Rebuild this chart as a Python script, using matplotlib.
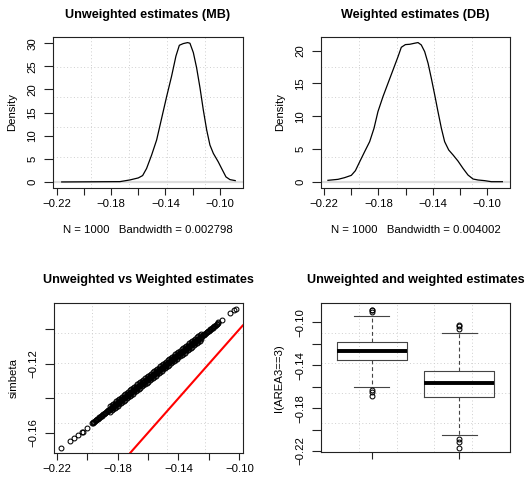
import matplotlib
matplotlib.use('Agg')
import matplotlib.pyplot as plt

plt.rcParams['font.family'] = ['Liberation Sans', 'DejaVu Sans']

# ---------------- data ----------------
# density of unweighted estimates (MB)
dens_mb_x = [-0.2163, -0.1735, -0.1661, -0.1600, -0.1568, -0.1539, -0.1502, -0.1465,
             -0.1428, -0.1391, -0.1355, -0.1323, -0.1298, -0.1269, -0.1237, -0.1220,
             -0.1195, -0.1171, -0.1146, -0.1122, -0.1097, -0.1073, -0.1048, -0.1012,
             -0.0987, -0.0955, -0.0926, -0.0887]
dens_mb_y = [0.0, 0.07, 0.44, 0.87, 1.38, 2.91, 5.81, 9.08,
             13.8, 18.52, 22.88, 27.23, 29.56, 29.93, 30.14, 30.0,
             27.97, 24.7, 20.34, 15.62, 11.26, 7.99, 6.18, 4.36,
             2.91, 1.09, 0.51, 0.29]

# density of weighted estimates (DB)
dens_db_x = [-0.2171, -0.2097, -0.2048, -0.1999, -0.1969, -0.1937, -0.1901, -0.1864,
             -0.1832, -0.1803, -0.1766, -0.1729, -0.1692, -0.1655, -0.1631, -0.1601,
             -0.1569, -0.1533, -0.1508, -0.1484, -0.1459, -0.1434, -0.1410, -0.1385,
             -0.1361, -0.1336, -0.1312, -0.1282, -0.1250, -0.1214, -0.1177, -0.1140,
             -0.1103, -0.1066, -0.1017, -0.0968, -0.0887]
dens_db_y = [0.21, 0.36, 0.62, 0.97, 1.68, 3.06, 4.58, 6.11,
             8.15, 10.69, 12.98, 15.02, 17.05, 19.09, 20.51, 20.92,
             20.97, 21.13, 21.23, 20.87, 19.85, 18.07, 15.78, 13.24,
             10.69, 8.15, 6.11, 4.84, 4.08, 3.16, 2.04, 1.02,
             0.41, 0.26, 0.16, 0.0, 0.0]

mb_label = "N = 1000   Bandwidth = 0.002798"
db_label = "N = 1000   Bandwidth = 0.004002"

# scatter: weighted estimates (x) vs simbeta (y)
# sparse tails
weighted_tail = [-0.2172, -0.2113, -0.2087, -0.2058, -0.2036, -0.2025, -0.2003,
                 -0.1138, -0.1116, -0.1061, -0.1033, -0.1024]
simbeta_tail = [-0.1691, -0.1648, -0.1629, -0.1613, -0.1598, -0.1594, -0.1571,
                -0.0960, -0.0946, -0.0907, -0.0888, -0.0882]
# dense central band (centre of band)
weighted_core = [
    -0.1970, -0.1965, -0.1960, -0.1955, -0.1950, -0.1945, -0.1940, -0.1935, -0.1930, -0.1925,
    -0.1920, -0.1915, -0.1910, -0.1905, -0.1900, -0.1895, -0.1890, -0.1885, -0.1880, -0.1875,
    -0.1870, -0.1865, -0.1860, -0.1855, -0.1850, -0.1845, -0.1840, -0.1835, -0.1830, -0.1825,
    -0.1820, -0.1815, -0.1810, -0.1805, -0.1800, -0.1795, -0.1790, -0.1785, -0.1780, -0.1775,
    -0.1770, -0.1765, -0.1760, -0.1755, -0.1750, -0.1745, -0.1740, -0.1735, -0.1730, -0.1725,
    -0.1720, -0.1715, -0.1710, -0.1705, -0.1700, -0.1695, -0.1690, -0.1685, -0.1680, -0.1675,
    -0.1670, -0.1665, -0.1660, -0.1655, -0.1650, -0.1645, -0.1640, -0.1635, -0.1630, -0.1625,
    -0.1620, -0.1615, -0.1610, -0.1605, -0.1600, -0.1595, -0.1590, -0.1585, -0.1580, -0.1575,
    -0.1570, -0.1565, -0.1560, -0.1555, -0.1550, -0.1545, -0.1540, -0.1535, -0.1530, -0.1525,
    -0.1520, -0.1515, -0.1510, -0.1505, -0.1500, -0.1495, -0.1490, -0.1485, -0.1480, -0.1475,
    -0.1470, -0.1465, -0.1460, -0.1455, -0.1450, -0.1445, -0.1440, -0.1435, -0.1430, -0.1425,
    -0.1420, -0.1415, -0.1410, -0.1405, -0.1400, -0.1395, -0.1390, -0.1385, -0.1380, -0.1375,
    -0.1370, -0.1365, -0.1360, -0.1355, -0.1350, -0.1345, -0.1340, -0.1335, -0.1330, -0.1325,
    -0.1320, -0.1315, -0.1310, -0.1305, -0.1300, -0.1295, -0.1290, -0.1285, -0.1280, -0.1275,
    -0.1270, -0.1265, -0.1260, -0.1255, -0.1250, -0.1245, -0.1240, -0.1235, -0.1230, -0.1225,
    -0.1220, -0.1215, -0.1210, -0.1205, -0.1200, -0.1195, -0.1190, -0.1185, -0.1180, -0.1175,
    -0.1170, -0.1165, -0.1160, -0.1155, -0.1150, -0.1145, -0.1140]
simbeta_core = [
    -0.15460, -0.15425, -0.15390, -0.15355, -0.15320, -0.15285, -0.15250, -0.15215, -0.15180, -0.15145,
    -0.15110, -0.15075, -0.15040, -0.15005, -0.14970, -0.14935, -0.14900, -0.14865, -0.14830, -0.14795,
    -0.14760, -0.14725, -0.14690, -0.14655, -0.14620, -0.14585, -0.14550, -0.14515, -0.14480, -0.14445,
    -0.14410, -0.14375, -0.14340, -0.14305, -0.14270, -0.14235, -0.14200, -0.14165, -0.14130, -0.14095,
    -0.14060, -0.14025, -0.13990, -0.13955, -0.13920, -0.13885, -0.13850, -0.13815, -0.13780, -0.13745,
    -0.13710, -0.13675, -0.13640, -0.13605, -0.13570, -0.13535, -0.13500, -0.13465, -0.13430, -0.13395,
    -0.13360, -0.13325, -0.13290, -0.13255, -0.13220, -0.13185, -0.13150, -0.13115, -0.13080, -0.13045,
    -0.13010, -0.12975, -0.12940, -0.12905, -0.12870, -0.12835, -0.12800, -0.12765, -0.12730, -0.12695,
    -0.12660, -0.12625, -0.12590, -0.12555, -0.12520, -0.12485, -0.12450, -0.12415, -0.12380, -0.12345,
    -0.12310, -0.12275, -0.12240, -0.12205, -0.12170, -0.12135, -0.12100, -0.12065, -0.12030, -0.11995,
    -0.11960, -0.11925, -0.11890, -0.11855, -0.11820, -0.11785, -0.11750, -0.11715, -0.11680, -0.11645,
    -0.11610, -0.11575, -0.11540, -0.11505, -0.11470, -0.11435, -0.11400, -0.11365, -0.11330, -0.11295,
    -0.11260, -0.11225, -0.11190, -0.11155, -0.11120, -0.11085, -0.11050, -0.11015, -0.10980, -0.10945,
    -0.10910, -0.10875, -0.10840, -0.10805, -0.10770, -0.10735, -0.10700, -0.10665, -0.10630, -0.10595,
    -0.10560, -0.10525, -0.10490, -0.10455, -0.10420, -0.10385, -0.10350, -0.10315, -0.10280, -0.10245,
    -0.10210, -0.10175, -0.10140, -0.10105, -0.10070, -0.10035, -0.10000, -0.09965, -0.09930, -0.09895,
    -0.09860, -0.09825, -0.09790, -0.09755, -0.09720, -0.09685, -0.09650]
# dense band: points above and below the centre (same weighted values)
weighted_side = [
    -0.185, -0.184, -0.183, -0.182, -0.181, -0.180, -0.179, -0.178, -0.177, -0.176,
    -0.175, -0.174, -0.173, -0.172, -0.171, -0.170, -0.169, -0.168, -0.167, -0.166,
    -0.165, -0.164, -0.163, -0.162, -0.161, -0.160, -0.159, -0.158, -0.157, -0.156,
    -0.155, -0.154, -0.153, -0.152, -0.151, -0.150, -0.149, -0.148, -0.147, -0.146,
    -0.145, -0.144, -0.143, -0.142, -0.141, -0.140, -0.139, -0.138, -0.137, -0.136,
    -0.135, -0.134, -0.133, -0.132, -0.131, -0.130, -0.129, -0.128, -0.127, -0.126,
    -0.125]
simbeta_upper = [
    -0.1446, -0.1439, -0.1432, -0.1425, -0.1418, -0.1411, -0.1404, -0.1397, -0.1390, -0.1383,
    -0.1376, -0.1369, -0.1362, -0.1355, -0.1348, -0.1341, -0.1334, -0.1327, -0.1320, -0.1313,
    -0.1306, -0.1299, -0.1292, -0.1285, -0.1278, -0.1271, -0.1264, -0.1257, -0.1250, -0.1243,
    -0.1236, -0.1229, -0.1222, -0.1215, -0.1208, -0.1201, -0.1194, -0.1187, -0.1180, -0.1173,
    -0.1166, -0.1159, -0.1152, -0.1145, -0.1138, -0.1131, -0.1124, -0.1117, -0.1110, -0.1103,
    -0.1096, -0.1089, -0.1082, -0.1075, -0.1068, -0.1061, -0.1054, -0.1047, -0.1040, -0.1033,
    -0.1026]
simbeta_lower = [
    -0.1478, -0.1471, -0.1464, -0.1457, -0.1450, -0.1443, -0.1436, -0.1429, -0.1422, -0.1415,
    -0.1408, -0.1401, -0.1394, -0.1387, -0.1380, -0.1373, -0.1366, -0.1359, -0.1352, -0.1345,
    -0.1338, -0.1331, -0.1324, -0.1317, -0.1310, -0.1303, -0.1296, -0.1289, -0.1282, -0.1275,
    -0.1268, -0.1261, -0.1254, -0.1247, -0.1240, -0.1233, -0.1226, -0.1219, -0.1212, -0.1205,
    -0.1198, -0.1191, -0.1184, -0.1177, -0.1170, -0.1163, -0.1156, -0.1149, -0.1142, -0.1135,
    -0.1128, -0.1121, -0.1114, -0.1107, -0.1100, -0.1093, -0.1086, -0.1079, -0.1072, -0.1065,
    -0.1058]
ref_intercept = 0.0
ref_slope = 1.0

# boxplot statistics: [unweighted, weighted]
box_med = [-0.1268, -0.1569]
box_q1 = [-0.1354, -0.1694]
box_q3 = [-0.1181, -0.1454]
box_whislo = [-0.1600, -0.2051]
box_whishi = [-0.0941, -0.1103]
box_fliers = [[-0.1629, -0.1648, -0.1691, -0.0882, -0.0888, -0.0907],
              [-0.2087, -0.2113, -0.2172, -0.1024, -0.1033, -0.1061]]

titles = ["Unweighted estimates (MB)", "Weighted estimates (DB)",
          "Unweighted vs Weighted estimates", "Unweighted and weighted estimates"]

# ---------------- drawing ----------------
W, H = 527, 478
fig = plt.figure(figsize=(W / 100, H / 100), dpi=100)

def rect(x0, y0, x1, y1):
    return [x0 / W, 1 - y1 / H, (x1 - x0) / W, (y1 - y0) / H]

FG = '#222222'
TS = 8.2
TTS = 9.1

def fmt(v):
    return f"{v:.2f}".replace('-', '\u2212')

def style(ax, xlim, ylim, xticks, xshow, yticks, yshow, yfmt=fmt, xfmt=fmt):
    ax.set_xlim(xlim)
    ax.set_ylim(ylim)
    for s in ax.spines.values():
        s.set_color(FG)
        s.set_linewidth(0.8)
    ax.set_xticks(xticks)
    ax.set_xticklabels([xfmt(v) if sh else '' for v, sh in zip(xticks, xshow)])
    ax.set_yticks(yticks)
    ax.set_yticklabels([yfmt(v) if sh else '' for v, sh in zip(yticks, yshow)],
                       rotation=90, va='center')
    ax.tick_params(axis='x', direction='out', length=5, width=0.8, color=FG,
                   labelsize=TS, pad=3.3)
    ax.tick_params(axis='y', direction='out', length=6.5, width=0.8, color=FG,
                   labelsize=TS, pad=5.0)
    # 5x5 dotted grid
    for k in range(1, 5):
        ax.axvline(xlim[0] + k * (xlim[1] - xlim[0]) / 5, color='#cfcfcf',
                   ls=(0, (1, 2.5)), lw=0.7, zorder=0)
        ax.axhline(ylim[0] + k * (ylim[1] - ylim[0]) / 5, color='#cfcfcf',
                   ls=(0, (1, 2.5)), lw=0.7, zorder=0)

xt = [-0.22, -0.20, -0.18, -0.16, -0.14, -0.12, -0.10]
xs = [True, False, True, False, True, False, True]

def ylab(ax, text, xpix, axleft, axwidth):
    ax.set_ylabel(text, fontsize=TS, va='center')
    ax.yaxis.set_label_coords((xpix - axleft) / axwidth, 0.5)

def ttl(ax, text, y):
    ax.set_title(text, fontsize=TTS, fontweight='bold', y=y, pad=0)

# Panel 1
ax1 = fig.add_axes(rect(53.3, 37, 242.7, 187.5))
ax1.axhline(0, color='#dcdcdc', lw=1.6, zorder=1)
ax1.plot(dens_mb_x, dens_mb_y, color='black', lw=0.9, zorder=3)
style(ax1, (-0.2225, -0.0832), (-1.2, 31.35), xt, xs,
      [0, 5, 10, 15, 20, 25, 30], [True] * 7, yfmt=lambda v: f"{v:g}")
ax1.set_xlabel(mb_label, fontsize=TS, va='center')
ax1.xaxis.set_label_coords(0.5, (187.5 - 230) / 150.5)
ylab(ax1, 'Density', 11.7, 53.3, 189.4)
ttl(ax1, titles[0], 1 + (37 - 17.7) / 150.5)

# Panel 2
ax2 = fig.add_axes(rect(321.3, 37, 509.7, 187.5))
ax2.axhline(0, color='#dcdcdc', lw=1.6, zorder=1)
ax2.plot(dens_db_x, dens_db_y, color='black', lw=0.9, zorder=3)
style(ax2, (-0.222, -0.0833), (-0.885, 22.08), xt, xs,
      [0, 5, 10, 15, 20], [True] * 5, yfmt=lambda v: f"{v:g}")
ax2.set_xlabel(db_label, fontsize=TS, va='center')
ax2.xaxis.set_label_coords(0.5, (187.5 - 230) / 150.5)
ylab(ax2, 'Density', 279.7, 321.3, 188.4)
ttl(ax2, titles[1], 1 + (37 - 17.7) / 150.5)

# Panel 3
ax3 = fig.add_axes(rect(54, 303.3, 242.7, 452.7))
pt = dict(ls='none', marker='o', mfc='none', mec='black', ms=3.5, mew=0.75, zorder=3)
ax3.plot(weighted_tail, simbeta_tail, **pt)
ax3.plot(weighted_core, simbeta_core, **pt)
ax3.plot(weighted_side, simbeta_upper, **pt)
ax3.plot(weighted_side, simbeta_lower, **pt)
ax3.axline((0, ref_intercept), slope=ref_slope, color='red', lw=1.5, zorder=4)
style(ax3, (-0.2218, -0.0978), (-0.1716, -0.0849), xt, xs,
      [-0.16, -0.14, -0.12, -0.10], [True, False, True, False])
ylab(ax3, 'simbeta', 13.7, 54, 188.7)
ttl(ax3, titles[2], 1 + (303.3 - 283.3) / 149.4)

# Panel 4
ax4 = fig.add_axes(rect(321.3, 303.3, 509.7, 452.3))
stats = []
for i in range(2):
    stats.append(dict(med=box_med[i], q1=box_q1[i], q3=box_q3[i],
                      whislo=box_whislo[i], whishi=box_whishi[i],
                      fliers=box_fliers[i]))
ax4.bxp(stats, positions=[1, 2], widths=0.8, capwidths=0.4, manage_ticks=False,
        boxprops=dict(color='#444444', lw=0.8),
        medianprops=dict(color='black', lw=2.8, solid_capstyle='butt'),
        whiskerprops=dict(color='#444444', lw=0.8, ls=(0, (3.5, 2.5))),
        capprops=dict(color='#444444', lw=0.8),
        flierprops=dict(marker='o', mfc='none', mec='black', ms=3.5, mew=0.75))
yt4 = [-0.22, -0.20, -0.18, -0.16, -0.14, -0.12, -0.10]
style(ax4, (0.42, 2.58), (-0.2212, -0.0823), [1, 2], [False, False],
      yt4, [True, False, True, False, True, False, True])
ylab(ax4, 'I(AREA3==3)', 279.0, 321.3, 188.4)
ttl(ax4, titles[3], 1 + (303.3 - 283.3) / 149.0)

fig.savefig('out.png', dpi=100)
